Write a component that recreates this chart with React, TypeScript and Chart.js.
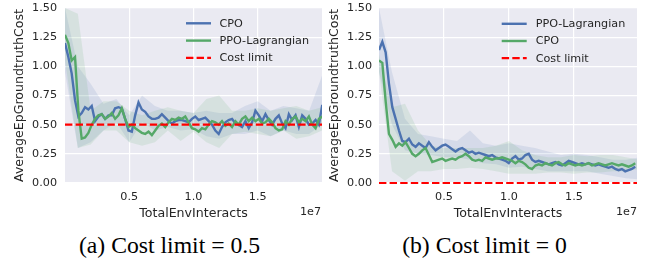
import React, { useEffect, useRef } from "react";
import { Chart, registerables } from "chart.js";

Chart.register(...registerables);

// ---------------- data ----------------
// x sample spacing (units of 1e7 env interactions)
const LEFT_DX = 0.026;
const RIGHT_DX = 0.0256;

// (a) Cost limit = 0.5
const LEFT_CPO = [
  1.2, 1.08, 0.94, 0.71, 0.57, 0.6, 0.65, 0.63, 0.66, 0.53,
  0.57, 0.59, 0.55, 0.58, 0.58, 0.64, 0.65, 0.64, 0.55, 0.45,
  0.44, 0.58, 0.69, 0.63, 0.61, 0.57, 0.55, 0.55, 0.56, 0.59,
  0.56, 0.53, 0.51, 0.53, 0.54, 0.54, 0.53, 0.52, 0.55, 0.57,
  0.54, 0.55, 0.56, 0.53, 0.5, 0.45, 0.42, 0.48, 0.52, 0.54,
  0.55, 0.51, 0.5, 0.48, 0.53, 0.47, 0.52, 0.62, 0.58, 0.53,
  0.59, 0.54, 0.5, 0.55, 0.58, 0.51, 0.47, 0.59, 0.54, 0.58,
  0.48, 0.58, 0.55, 0.5, 0.51, 0.54, 0.5, 0.67,
];
const LEFT_PPO = [
  1.27, 1.2, 1.05, 1.08, 0.62, 0.38, 0.39, 0.43, 0.5, 0.55,
  0.58, 0.59, 0.55, 0.57, 0.6, 0.55, 0.58, 0.64, 0.55, 0.48,
  0.5, 0.47, 0.45, 0.43, 0.42, 0.44, 0.41, 0.45, 0.49, 0.51,
  0.48, 0.52, 0.55, 0.54, 0.56, 0.55, 0.57, 0.52, 0.47, 0.46,
  0.44, 0.47, 0.46, 0.5, 0.53, 0.52, 0.5, 0.53, 0.49, 0.51,
  0.48, 0.53, 0.5, 0.55, 0.57, 0.53, 0.56, 0.53, 0.55, 0.51,
  0.52, 0.55, 0.52, 0.47, 0.45, 0.46, 0.53, 0.5, 0.55, 0.57,
  0.52, 0.55, 0.53, 0.57, 0.5, 0.47, 0.55, 0.57,
];

// (b) Cost limit = 0
const RIGHT_PPO = [
  1.14, 1.21, 1.12, 0.85, 0.65, 0.55, 0.45, 0.36, 0.35, 0.38,
  0.33, 0.31, 0.34, 0.32, 0.3, 0.35, 0.31, 0.28, 0.3, 0.32,
  0.33, 0.31, 0.29, 0.27, 0.29, 0.3, 0.28, 0.26, 0.27, 0.25,
  0.26, 0.25, 0.24, 0.23, 0.24, 0.22, 0.21, 0.2, 0.19, 0.17,
  0.21, 0.23, 0.2, 0.21, 0.24, 0.25, 0.2, 0.18, 0.19, 0.18,
  0.17, 0.16, 0.17, 0.18, 0.16, 0.15, 0.17, 0.19, 0.18, 0.17,
  0.16, 0.17, 0.16, 0.17, 0.16, 0.15, 0.16, 0.15, 0.14, 0.13,
  0.14, 0.12, 0.11, 0.12, 0.1, 0.11, 0.12, 0.14,
];
const RIGHT_CPO = [
  1.05, 1.03, 0.7, 0.42, 0.37, 0.31, 0.34, 0.32, 0.35, 0.3,
  0.25, 0.23, 0.25, 0.28, 0.3, 0.24, 0.18, 0.19, 0.2, 0.21,
  0.19, 0.2, 0.21, 0.2, 0.22, 0.23, 0.25, 0.23, 0.2, 0.19,
  0.2, 0.19, 0.22, 0.21, 0.2, 0.21, 0.21, 0.22, 0.21, 0.2,
  0.19, 0.17, 0.19, 0.18, 0.16, 0.13, 0.12, 0.15, 0.16, 0.15,
  0.17, 0.16, 0.15, 0.17, 0.18, 0.16, 0.15, 0.17, 0.16, 0.15,
  0.16, 0.15, 0.16, 0.17, 0.15, 0.16, 0.17, 0.16, 0.15, 0.16,
  0.17, 0.16, 0.15, 0.16, 0.15, 0.14, 0.15, 0.17,
];

// shaded spread bands, sampled at BAND_X
const BAND_X = [0, 0.1, 0.2, 0.3, 0.4, 0.5, 0.6, 0.7, 0.8, 0.9, 1.0, 1.1, 1.2, 1.3, 1.4, 1.5, 1.6, 1.7, 1.8, 1.9, 2.0];
const LEFT_CPO_HI = [1.5, 1.0, 0.85, 0.68, 0.72, 0.58, 0.75, 0.66, 0.62, 0.62, 0.6, 0.62, 0.6, 0.6, 0.66, 0.7, 0.62, 0.66, 0.64, 0.62, 0.92];
const LEFT_CPO_LO = [0.95, 0.3, 0.35, 0.45, 0.52, 0.35, 0.52, 0.45, 0.48, 0.45, 0.46, 0.4, 0.38, 0.42, 0.42, 0.45, 0.4, 0.45, 0.42, 0.42, 0.5];
const LEFT_PPO_HI = [1.5, 1.45, 0.62, 0.7, 0.7, 0.62, 0.58, 0.62, 0.65, 0.62, 0.6, 0.72, 0.75, 0.62, 0.62, 0.64, 0.62, 0.64, 0.66, 0.62, 0.65];
const LEFT_PPO_LO = [1.05, 0.3, 0.33, 0.45, 0.45, 0.35, 0.32, 0.35, 0.45, 0.36, 0.44, 0.35, 0.3, 0.42, 0.44, 0.42, 0.4, 0.45, 0.38, 0.4, 0.45];
const RIGHT_PPO_HI = [1.5, 0.95, 0.55, 0.42, 0.4, 0.38, 0.36, 0.45, 0.34, 0.32, 0.34, 0.32, 0.3, 0.27, 0.24, 0.25, 0.24, 0.22, 0.2, 0.2, 0.22];
const RIGHT_PPO_LO = [0.95, 0.5, 0.28, 0.25, 0.24, 0.22, 0.22, 0.2, 0.17, 0.16, 0.13, 0.14, 0.12, 0.1, 0.1, 0.1, 0.1, 0.08, 0.06, 0.04, 0.03];
const RIGHT_CPO_HI = [1.1, 0.65, 0.68, 0.45, 0.32, 0.3, 0.3, 0.3, 0.3, 0.32, 0.36, 0.28, 0.24, 0.22, 0.22, 0.24, 0.23, 0.24, 0.24, 0.22, 0.2];
const RIGHT_CPO_LO = [0.95, 0.1, 0.02, 0.1, 0.1, 0.12, 0.12, 0.13, 0.12, 0.1, 0.08, 0.08, 0.08, 0.09, 0.09, 0.08, 0.09, 0.09, 0.1, 0.1, 0.12];

const X_TICKS = [0.5, 1.0, 1.5];
const Y_TICK_STEP = 0.25;
const LEFT_LIMIT = 0.5;
const RIGHT_LIMIT = 0;
const LEFT_LEGEND = ["CPO", "PPO-Lagrangian", "Cost limit"];
const RIGHT_LEGEND = ["PPO-Lagrangian", "CPO", "Cost limit"];
const X_TITLE = "TotalEnvInteracts";
const Y_TITLE = "AverageEpGroundtruthCost";
const X_OFFSET_LABEL = "1e7";
const CAPTIONS = ["(a) Cost limit = 0.5", "(b) Cost limit = 0"];

// ---------------- styles ----------------
const BLUE = "#4C72B0";
const GREEN = "#55A868";
const RED = "#FF0000";
const BLUE_FILL = "rgba(76,114,176,0.13)";
const GREEN_FILL = "rgba(85,168,104,0.13)";
const BG = "#EAEAF2";
const TEXT = "#262626";
const FONT = "'DejaVu Sans', sans-serif";
const LIMIT_DASH = [7.4, 3.2];

const bgPlugin = {
  id: "axesBg",
  beforeDraw(chart: any) {
    const { ctx, chartArea: a } = chart;
    ctx.save();
    ctx.fillStyle = BG;
    ctx.fillRect(a.left, a.top, a.right - a.left, a.bottom - a.top);
    ctx.restore();
  },
};

const legendPlugin = {
  id: "innerLegend",
  afterDatasetsDraw(chart: any, _args: any, opts: any) {
    const { ctx } = chart;
    ctx.save();
    ctx.font = `11.2px ${FONT}`;
    ctx.textBaseline = "middle";
    ctx.textAlign = "left";
    opts.items.forEach((it: any, i: number) => {
      const y = opts.y0 + i * opts.dy;
      ctx.beginPath();
      ctx.strokeStyle = it.color;
      ctx.lineWidth = it.dash ? 2.2 : 2.4;
      ctx.setLineDash(it.dash || []);
      ctx.moveTo(opts.x0, y);
      ctx.lineTo(opts.x1, y);
      ctx.stroke();
      ctx.setLineDash([]);
      ctx.fillStyle = TEXT;
      ctx.fillText(it.label, opts.tx, y + 0.5);
    });
    ctx.restore();
  },
};

const offsetPlugin = {
  id: "offsetText",
  afterDraw(chart: any, _args: any, opts: any) {
    const { ctx, chartArea: a } = chart;
    ctx.save();
    ctx.font = `11.2px ${FONT}`;
    ctx.fillStyle = TEXT;
    ctx.textAlign = "right";
    ctx.textBaseline = "middle";
    ctx.fillText(opts.text, a.right + opts.dx, opts.y);
    ctx.restore();
  },
};

type Spec = {
  blue: number[];
  green: number[];
  dx: number;
  blueHi: number[];
  blueLo: number[];
  greenHi: number[];
  greenLo: number[];
  limit: number;
  xMax: number;
  legend: string[];
  yWidth: number;
  padRight: number;
  yTitlePad: number;
  yTickPad: number;
  legendPos: { x0: number; x1: number; tx: number; y0: number; dy: number };
  offsetDx: number;
};

function buildConfig(s: Spec): any {
  const pts = (vals: number[]) => vals.map((v, i) => ({ x: i * s.dx, y: v }));
  const band = (vals: number[]) => vals.map((v, i) => ({ x: BAND_X[i], y: v }));
  const common = { pointRadius: 0, pointHoverRadius: 0, tension: 0 };
  return {
    type: "line",
    data: {
      datasets: [
        {
          ...common,
          label: s.legend[2],
          data: [
            { x: 0, y: s.limit },
            { x: s.xMax, y: s.limit },
          ],
          borderColor: RED,
          borderWidth: 2.2,
          borderDash: LIMIT_DASH,
          fill: false,
          clip: false,
          order: 0,
        },
        {
          ...common,
          label: s.legend[1],
          data: pts(s.green),
          borderColor: GREEN,
          borderWidth: 2.4,
          fill: false,
          order: 1,
        },
        {
          ...common,
          label: s.legend[0],
          data: pts(s.blue),
          borderColor: BLUE,
          borderWidth: 2.4,
          fill: false,
          order: 2,
        },
        {
          ...common,
          data: band(s.greenHi),
          borderWidth: 0,
          borderColor: "rgba(0,0,0,0)",
          backgroundColor: GREEN_FILL,
          fill: 4,
          order: 3,
        },
        { ...common, data: band(s.greenLo), borderWidth: 0, borderColor: "rgba(0,0,0,0)", fill: false, order: 4 },
        {
          ...common,
          data: band(s.blueHi),
          borderWidth: 0,
          borderColor: "rgba(0,0,0,0)",
          backgroundColor: BLUE_FILL,
          fill: 6,
          order: 5,
        },
        { ...common, data: band(s.blueLo), borderWidth: 0, borderColor: "rgba(0,0,0,0)", fill: false, order: 6 },
      ],
    },
    options: {
      animation: false,
      responsive: false,
      devicePixelRatio: 1,
      events: [],
      layout: { autoPadding: false, padding: { top: 8, right: s.padRight, left: 0, bottom: 0 } },
      plugins: {
        legend: { display: false },
        tooltip: { enabled: false },
        innerLegend: {
          ...s.legendPos,
          items: [
            { label: s.legend[0], color: BLUE },
            { label: s.legend[1], color: GREEN },
            { label: s.legend[2], color: RED, dash: LIMIT_DASH },
          ],
        },
        offsetText: { text: X_OFFSET_LABEL, dx: s.offsetDx, y: 212 },
      },
      scales: {
        x: {
          type: "linear",
          min: 0,
          max: s.xMax,
          afterBuildTicks: (scale: any) => {
            scale.ticks = X_TICKS.map((v) => ({ value: v }));
          },
          afterFit: (scale: any) => {
            scale.height = 39;
            scale.paddingLeft = 0;
            scale.paddingRight = 0;
          },
          grid: { color: "#FFFFFF", lineWidth: 1.2, drawTicks: false },
          border: { display: false },
          ticks: {
            padding: 7,
            color: TEXT,
            font: { family: FONT, size: 11.2 },
            maxRotation: 0,
            callback: (v: number) => Number(v).toFixed(1),
          },
          title: {
            display: true,
            text: X_TITLE,
            color: TEXT,
            font: { family: FONT, size: 12.6, lineHeight: 1.2 },
            padding: { top: 0, bottom: 1 },
          },
        },
        y: {
          min: 0,
          max: 1.5,
          afterFit: (scale: any) => {
            scale.width = s.yWidth;
            scale.paddingTop = 0;
            scale.paddingBottom = 0;
          },
          grid: { color: "#FFFFFF", lineWidth: 1.2, drawTicks: false },
          border: { display: false },
          ticks: {
            stepSize: Y_TICK_STEP,
            padding: s.yTickPad,
            color: TEXT,
            font: { family: FONT, size: 11.2 },
            callback: (v: number) => Number(v).toFixed(2),
          },
          title: {
            display: true,
            text: Y_TITLE,
            color: TEXT,
            font: { family: FONT, size: 12.6, lineHeight: 1.2 },
            padding: { top: s.yTitlePad, bottom: 0 },
          },
        },
      },
    },
    plugins: [bgPlugin, legendPlugin, offsetPlugin],
  };
}

function Panel({ spec, left, width }: { spec: Spec; left: number; width: number }) {
  const ref = useRef<HTMLCanvasElement>(null);
  useEffect(() => {
    const chart = new Chart(ref.current as HTMLCanvasElement, buildConfig(spec));
    return () => chart.destroy();
  }, []);
  return (
    <canvas
      ref={ref}
      width={width}
      height={222}
      style={{ position: "absolute", left, top: 0, width, height: 222 }}
    />
  );
}

const leftSpec: Spec = {
  blue: LEFT_CPO,
  green: LEFT_PPO,
  dx: LEFT_DX,
  blueHi: LEFT_CPO_HI,
  blueLo: LEFT_CPO_LO,
  greenHi: LEFT_PPO_HI,
  greenLo: LEFT_PPO_LO,
  limit: LEFT_LIMIT,
  xMax: 2.0,
  legend: LEFT_LEGEND,
  yWidth: 65,
  padRight: 3,
  yTitlePad: 12.4,
  yTickPad: 8,
  legendPos: { x0: 186, x1: 211, tx: 219.5, y0: 23.3, dy: 17.3 },
  offsetDx: -1,
};

const rightSpec: Spec = {
  blue: RIGHT_PPO,
  green: RIGHT_CPO,
  dx: RIGHT_DX,
  blueHi: RIGHT_PPO_HI,
  blueLo: RIGHT_PPO_LO,
  greenHi: RIGHT_CPO_HI,
  greenLo: RIGHT_CPO_LO,
  limit: RIGHT_LIMIT,
  xMax: 1.985,
  legend: RIGHT_LEGEND,
  yWidth: 54,
  padRight: 14,
  yTitlePad: 2.4,
  yTickPad: 7,
  legendPos: { x0: 176.7, x1: 201.7, tx: 210.7, y0: 23.8, dy: 17.2 },
  offsetDx: 0,
};

export default function App() {
  const captionStyle: React.CSSProperties = {
    position: "absolute",
    top: 233,
    width: 325,
    textAlign: "center",
    fontFamily: "'Liberation Serif', 'Times New Roman', serif",
    fontSize: 23.7,
    lineHeight: "24px",
    color: "#000",
    whiteSpace: "nowrap",
  };
  return (
    <div style={{ position: "absolute", left: 0, top: 0, width: 651, height: 260, background: "#fff", overflow: "hidden" }}>
      <Panel spec={leftSpec} left={0} width={325} />
      <Panel spec={rightSpec} left={325} width={326} />
      <div style={{ ...captionStyle, left: 7 }}>{CAPTIONS[0]}</div>
      <div style={{ ...captionStyle, left: 322 }}>{CAPTIONS[1]}</div>
    </div>
  );
}
